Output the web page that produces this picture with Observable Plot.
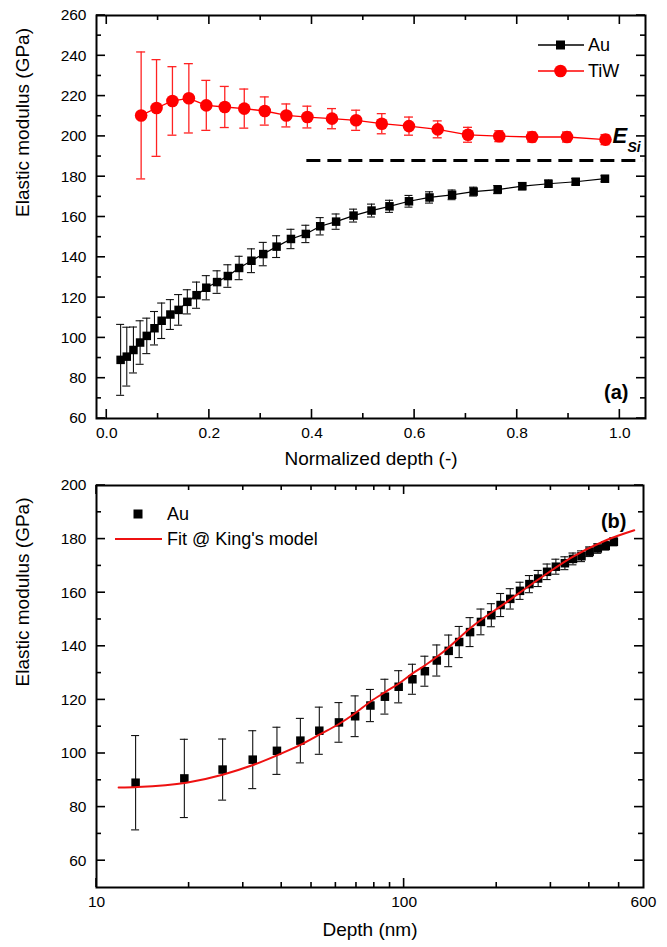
<!DOCTYPE html>
<html>
<head>
<meta charset="utf-8">
<script src="https://cdn.jsdelivr.net/npm/d3@7"></script>
<script src="https://cdn.jsdelivr.net/npm/@observablehq/plot@0.6"></script>
<style>
  body { margin: 0; background: #fff; }
  #wrap { position: relative; width: 667px; height: 947px; font-family: "Liberation Sans", Arial, sans-serif; }
  #wrap > svg { display: block; }
  .leg { position: absolute; font-size: 18px; line-height: 1; white-space: nowrap; color: #000; }
  .sw { position: absolute; }
</style>
</head>
<body>
<div id="wrap"></div>
<script>
// ---- Panel (a): normalized depth ----
const auNorm = [0.027, 0.039, 0.052, 0.065, 0.078, 0.093, 0.107, 0.124, 0.140, 0.157, 0.175, 0.194, 0.215, 0.236, 0.258, 0.282, 0.305, 0.331, 0.359, 0.388, 0.416, 0.447, 0.481, 0.516, 0.551, 0.589, 0.629, 0.673, 0.715, 0.762, 0.810, 0.861, 0.914, 0.971];
const auDepth = [13.4, 19.3, 25.7, 32.2, 38.6, 46.0, 53.0, 61.4, 69.3, 77.7, 86.6, 96.0, 106.4, 116.8, 127.7, 139.6, 151.0, 163.8, 177.7, 192.1, 205.9, 221.3, 238.1, 255.4, 272.7, 291.6, 311.4, 333.1, 353.9, 377.2, 401.0, 426.2, 452.4, 480.6];
const auModulus = [89.1, 90.7, 94.0, 97.7, 101.0, 104.8, 108.5, 111.6, 113.9, 117.9, 121.2, 124.9, 127.7, 130.7, 134.7, 138.3, 141.6, 145.3, 149.1, 151.6, 155.4, 157.7, 160.7, 163.2, 165.3, 167.8, 169.7, 171.0, 172.6, 173.6, 175.3, 176.5, 177.5, 179.0];
const auError = [17.6, 14.6, 11.4, 10.8, 8.8, 8.3, 8.8, 7.4, 7.6, 6.0, 6.5, 6.0, 5.6, 5.6, 5.8, 5.9, 5.8, 5.4, 4.8, 4.3, 4.3, 3.8, 3.2, 3.2, 3.0, 2.9, 2.8, 2.4, 2.2, 2.0, 1.8, 1.8, 1.6, 1.5];

const tiwNorm = [0.067, 0.097, 0.128, 0.160, 0.194, 0.230, 0.268, 0.308, 0.350, 0.391, 0.439, 0.486, 0.536, 0.589, 0.645, 0.704, 0.765, 0.829, 0.897, 0.972];
const tiwModulus = [210.4, 214.1, 217.6, 218.9, 215.4, 214.6, 213.8, 212.6, 210.4, 209.6, 208.8, 208.0, 206.3, 205.1, 203.5, 200.8, 200.1, 199.7, 199.7, 198.4];
const tiwError = [31.5, 24.0, 17.0, 17.2, 12.4, 10.2, 9.7, 7.0, 5.7, 5.4, 5.0, 5.0, 5.0, 4.5, 4.2, 3.7, 2.7, 2.5, 2.5, 2.5];

const eSi = 188;            // E_Si reference (GPa)
const eSiFrom = 0.39;       // dashed line start (normalized depth)
const eSiTo = 1.045;        // dashed line end

// ---- Panel (b): fit @ King's model ----
const fitDepth = [11.8, 13.6, 19.6, 25.7, 32.1, 38.8, 45.8, 53.4, 61.4, 69.3, 77.8, 87.3, 96.7, 106.8, 117.7, 132.6, 167, 213.6, 273.8, 349.6, 449.6, 560];
const fitModulus = [87.3, 87.5, 89.1, 92.1, 95.6, 99.4, 103.1, 107.2, 111.0, 115.0, 119.4, 123.1, 126.3, 130.0, 133.1, 137.5, 147.5, 156.2, 165.0, 173.1, 179.4, 183.3];

// ---- scales & ticks ----
const aXDomain = [-0.02, 1.05];
const aYDomain = [60, 260];
const bXDomain = [10, 600];
const bYDomain = [50, 200];
const aXMajor = [0, 0.2, 0.4, 0.6, 0.8, 1.0];
const aXMinor = [0.1, 0.3, 0.5, 0.7, 0.9];
const aYMajor = [60, 80, 100, 120, 140, 160, 180, 200, 220, 240, 260];
const aYMinor = [70, 90, 110, 130, 150, 170, 190, 210, 230, 250];
const bXMajor = [10, 100];
const bXLabels = [10, 100, 600];
const bXMinor = [20, 30, 40, 50, 60, 70, 80, 90, 200, 300, 400, 500];
const bYMajor = [60, 80, 100, 120, 140, 160, 180, 200];
const bYMinor = [70, 90, 110, 130, 150, 170, 190];

const yTitle = "Elastic modulus (GPa)";
const aXTitle = "Normalized depth (-)";
const bXTitle = "Depth (nm)";

const FONT = "Liberation Sans, Arial, sans-serif";
const RED = "#ff0000";

const au = auNorm.map((x, i) => ({x, depth: auDepth[i], y: auModulus[i], lo: auModulus[i] - auError[i], hi: auModulus[i] + auError[i]}));
const tiw = tiwNorm.map((x, i) => ({x, y: tiwModulus[i], lo: tiwModulus[i] - tiwError[i], hi: tiwModulus[i] + tiwError[i]}));
const fit = fitDepth.map((x, i) => ({x, y: fitModulus[i]}));

function errorBars(data, x, color, cap, sw) {
  return [
    Plot.ruleX(data, {x, y1: "lo", y2: "hi", stroke: color, strokeWidth: sw}),
    Plot.ruleY(data, {y: "lo", x1: x, x2: x, insetLeft: -cap, insetRight: -cap, stroke: color, strokeWidth: sw}),
    Plot.ruleY(data, {y: "hi", x1: x, x2: x, insetLeft: -cap, insetRight: -cap, stroke: color, strokeWidth: sw})
  ];
}

const plotA = Plot.plot({
  width: 667, height: 480,
  marginLeft: 96, marginRight: 22, marginTop: 15, marginBottom: 62,
  style: {fontFamily: FONT, fontSize: "15.5px"},
  x: {domain: aXDomain, axis: null},
  y: {domain: aYDomain, axis: null},
  marks: [
    Plot.ruleY([eSi], {x1: eSiFrom, x2: eSiTo, stroke: "#000", strokeWidth: 3, strokeDasharray: "14,7"}),
    ...errorBars(tiw, "x", "#f22", 4.5, 1.3),
    Plot.line(tiw, {x: "x", y: "y", stroke: RED, strokeWidth: 1.3}),
    Plot.dot(tiw, {x: "x", y: "y", r: 6.3, fill: RED}),
    ...errorBars(au, "x", "#111", 4, 1.1),
    Plot.line(au, {x: "x", y: "y", stroke: "#000", strokeWidth: 1.2}),
    Plot.dot(au, {x: "x", y: "y", symbol: "square", r: 4.8, fill: "#000"}),
    Plot.frame({stroke: "#000", strokeWidth: 2}),
    Plot.text(aXMajor, {x: d => d, frameAnchor: "bottom", lineAnchor: "top", dy: 8, text: d3.format(".1f"), fontSize: 15.5}),
    Plot.text(aYMajor, {y: d => d, frameAnchor: "left", textAnchor: "end", dx: -10, text: d => String(d), fontSize: 15.5}),
    Plot.text([aXTitle], {frameAnchor: "bottom", dy: 46, fontSize: 19}),
    Plot.text([yTitle], {frameAnchor: "left", rotate: -90, dx: -74, fontSize: 19}),
    Plot.text(["E"], {frameAnchor: "top-right", dx: -33, dy: 112, fontSize: 22, fontWeight: "bold", fontStyle: "italic", textAnchor: "start", lineAnchor: "top"}),
    Plot.text(["Si"], {frameAnchor: "top-right", dx: -18, dy: 127, fontSize: 14, fontWeight: "bold", fontStyle: "italic", textAnchor: "start", lineAnchor: "top"}),
    Plot.text(["(a)"], {frameAnchor: "bottom-right", dx: -17, dy: -20, fontSize: 20, fontWeight: "bold"})
  ]
});

const plotB = Plot.plot({
  width: 667, height: 467,
  marginLeft: 96, marginRight: 24, marginTop: 5, marginBottom: 60,
  style: {fontFamily: FONT, fontSize: "15.5px", overflow: "visible"},
  x: {type: "log", domain: bXDomain, axis: null},
  y: {domain: bYDomain, axis: null},
  marks: [
    ...errorBars(au, "depth", "#111", 4, 1.1),
    Plot.dot(au, {x: "depth", y: "y", symbol: "square", r: 4.8, fill: "#000"}),
    Plot.line(fit, {x: "x", y: "y", stroke: "#ee1111", strokeWidth: 2, curve: "monotone-x"}),
    Plot.frame({stroke: "#000", strokeWidth: 2}),
    Plot.text(bXLabels, {x: d => d, frameAnchor: "bottom", lineAnchor: "top", dy: 8, text: d => String(d), fontSize: 15.5}),
    Plot.text(bYMajor, {y: d => d, frameAnchor: "left", textAnchor: "end", dx: -10, text: d => String(d), fontSize: 15.5}),
    Plot.text([bXTitle], {frameAnchor: "bottom", dy: 48, fontSize: 19}),
    Plot.text([yTitle], {frameAnchor: "left", rotate: -90, dx: -74, fontSize: 19}),
    Plot.text(["(b)"], {frameAnchor: "top-right", dx: -17, dy: 28, fontSize: 20, fontWeight: "bold"})
  ]
});

// inward ticks on all four sides, positioned with the plots' own scales
function addTicks(svg, xd, yd, sets) {
  const sx = svg.scale("x"), sy = svg.scale("y");
  const x0 = sx.apply(xd[0]), x1 = sx.apply(xd[1]);
  const y0 = sy.apply(yd[0]), y1 = sy.apply(yd[1]);
  const g = d3.select(svg).append("g").attr("stroke", "#000").attr("stroke-width", 1.6).attr("fill", "none");
  sets.forEach(({xt, yt, L}) => {
    xt.forEach(v => {
      const px = sx.apply(v);
      g.append("line").attr("x1", px).attr("x2", px).attr("y1", y0).attr("y2", y0 - L);
      g.append("line").attr("x1", px).attr("x2", px).attr("y1", y1).attr("y2", y1 + L);
    });
    yt.forEach(v => {
      const py = sy.apply(v);
      g.append("line").attr("y1", py).attr("y2", py).attr("x1", x0).attr("x2", x0 + L);
      g.append("line").attr("y1", py).attr("y2", py).attr("x1", x1).attr("x2", x1 - L);
    });
  });
}
addTicks(plotA, aXDomain, aYDomain, [{xt: aXMajor, yt: aYMajor, L: 9}, {xt: aXMinor, yt: aYMinor, L: 5}]);
addTicks(plotB, bXDomain, bYDomain, [{xt: bXMajor, yt: bYMajor, L: 9}, {xt: bXMinor, yt: bYMinor, L: 5}]);

const wrap = document.getElementById("wrap");
wrap.appendChild(plotA);
wrap.appendChild(plotB);

// ---- legends (HTML overlays) ----
function addSwatch(left, top, w, h, inner) {
  const s = document.createElementNS("http://www.w3.org/2000/svg", "svg");
  s.setAttribute("class", "sw");
  s.setAttribute("width", w); s.setAttribute("height", h);
  s.style.left = left + "px"; s.style.top = top + "px";
  s.innerHTML = inner;
  wrap.appendChild(s);
}
function addText(left, centerY, txt) {
  const d = document.createElement("div");
  d.className = "leg";
  d.textContent = txt;
  d.style.left = left + "px";
  d.style.top = (centerY - 9) + "px";
  wrap.appendChild(d);
}
const legendA = [
  {name: "Au", color: "#000", marker: "square"},
  {name: "TiW", color: RED, marker: "circle"}
];
legendA.forEach((it, i) => {
  const cy = 45 + i * 26;
  const mk = it.marker === "square"
    ? `<rect x="18" y="6.5" width="9" height="9" fill="${it.color}"/>`
    : `<circle cx="22.5" cy="11" r="6.3" fill="${it.color}"/>`;
  addSwatch(538, cy - 11, 46, 22, `<line x1="0" x2="46" y1="11" y2="11" stroke="${it.color}" stroke-width="1.3"/>${mk}`);
  addText(588, cy, it.name);
});
addSwatch(128, 504, 20, 20, `<rect x="5.5" y="5.5" width="9" height="9" fill="#000"/>`);
addText(167, 514, "Au");
addSwatch(115, 534, 47, 10, `<line x1="0" x2="47" y1="5" y2="5" stroke="#ee1111" stroke-width="2"/>`);
addText(167, 539, "Fit @ King's model");
</script>
</body>
</html>
